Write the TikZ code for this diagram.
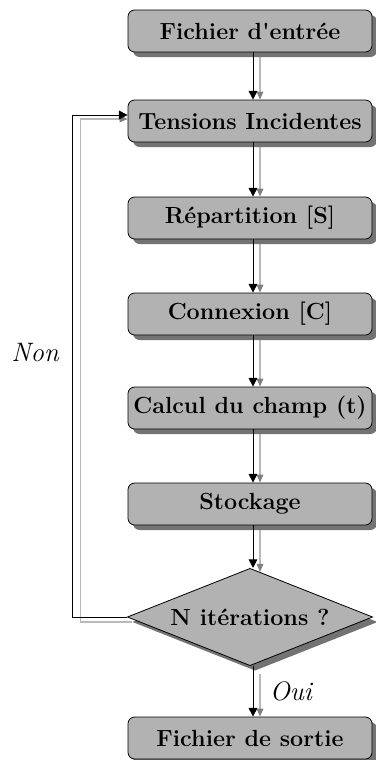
\documentclass[tikz,border=0pt]{standalone}
\usetikzlibrary{shapes.geometric,shadows,arrows.meta,backgrounds}

\tikzset{
	box/.style={draw=black, line width=0.6pt, fill=gray!60, rounded corners=5pt,
		minimum width=183pt, minimum height=31.5pt, inner sep=0pt,
		font=\fontsize{17.5}{21}\selectfont\bfseries,
		drop shadow={shadow xshift=3.75pt, shadow yshift=-3.75pt, fill=black!55, opacity=1}},
	test/.style={box, diamond, sharp corners, aspect=2.5,
		minimum width=184pt, minimum height=73pt},
	flow/.style={-{Triangle[length=6.5pt,width=6.5pt]}, line width=0.75pt},
	flowshadow/.style={-{Triangle[length=6pt,width=5pt,color=gray]}, draw=gray!55, line width=0.8pt},
	lbl/.style={font=\fontsize{20}{24}\selectfont\itshape}
}

\begin{document}
\begin{tikzpicture}[x=0.75pt,y=-0.75pt]

\useasboundingbox (0,0) rectangle (375,760);

% The steps
\node[box] (entree) at (250,31) {Fichier d\textquotesingle entrée};
\node[box] (tens) at (250,121) {Tensions Incidentes};
\node[box] (rep) at (250,218) {Répartition [S]};
\node[box] (conn) at (250,314) {Connexion [C]};
\node[box] (calc) at (250,408) {Calcul du champ (t)};
\node[box] (stock) at (250,504) {Stockage};
\node[test] (iter) at (250,617) {N itérations ?};
\node[box] (sortie) at (250,738) {Fichier de sortie};

% The grey copies of the arrows
\begin{scope}[on background layer]
\foreach \a/\b in {entree/tens,tens/rep,rep/conn,conn/calc,calc/stock}
{
	\draw[flowshadow] ([xshift=7.5pt]\a.south) -- ([xshift=7.5pt]\b.north);
}
\draw[flowshadow] ([xshift=7.5pt]stock.south) -- ([xshift=7.5pt,yshift=-3pt]iter.north);
\draw[flowshadow] ([xshift=7.5pt,yshift=-6pt]iter.south) -- ([xshift=7.5pt]sortie.north);
\draw[flowshadow] ([xshift=3.75pt,yshift=-3.75pt]iter.west) -- ++(-51,0) |- ([yshift=1.5pt]tens.west);
\end{scope}

% The arrows
\foreach \a/\b in {entree/tens,tens/rep,rep/conn,conn/calc,calc/stock,stock/iter}
{
	\draw[flow] ([xshift=2.25pt]\a.south) -- ([xshift=2.25pt]\b.north);
}
\draw[flow] ([xshift=2.25pt]iter.south) -- node[lbl,right=9pt] (oui) {Oui} ([xshift=2.25pt]sortie.north);
\draw[flow] (iter.west) -- ++(-54,0) |- ([yshift=4.5pt]tens.west);

\node[lbl] (non) at (35,353) {Non};

\end{tikzpicture}
\end{document}
